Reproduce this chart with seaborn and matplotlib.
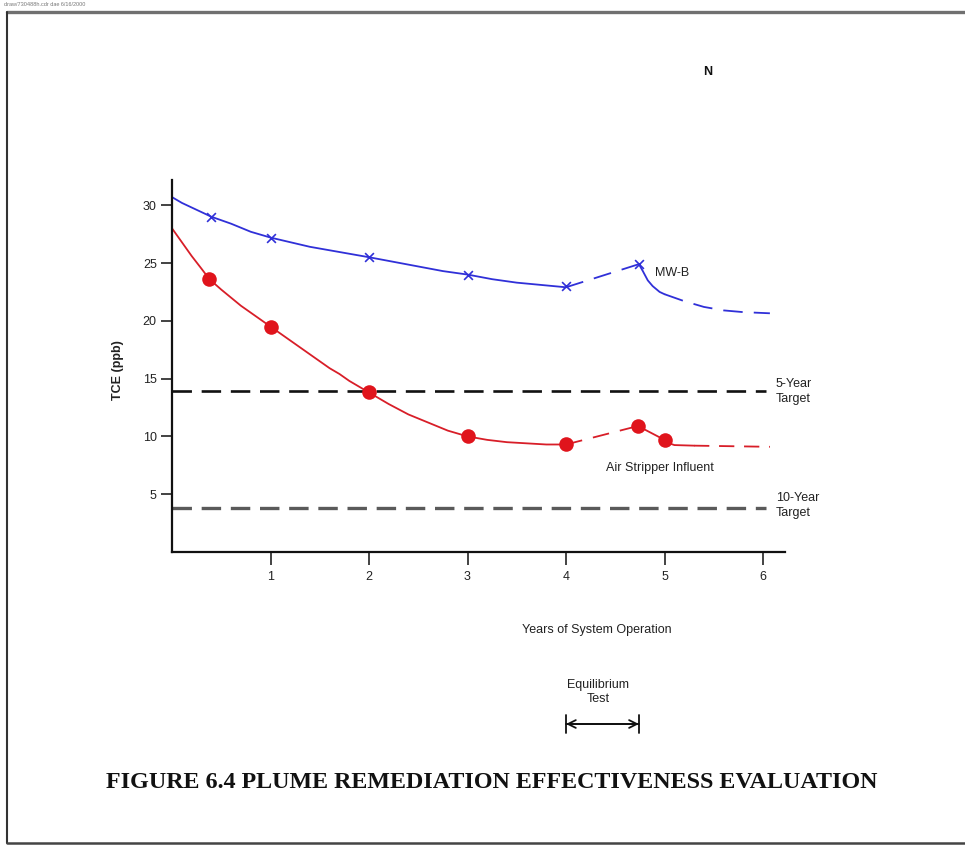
import numpy as np
import pandas as pd
import matplotlib
matplotlib.use("Agg")
import matplotlib.pyplot as plt
from matplotlib.lines import Line2D
import seaborn as sns

# ---------------- data ----------------
years_ticks = [1, 2, 3, 4, 5, 6]
tce_ticks = [5, 10, 15, 20, 25, 30]

# MW-B sampled points (x markers)
mwb_x = [0.4, 1, 2, 3, 4, 4.74]
mwb_y = [29.0, 27.2, 25.5, 24.0, 23.0, 24.9]

# MW-B trend curve
mwb_solid1_x = [0, 0.1, 0.2, 0.3, 0.4, 0.6, 0.8, 1, 1.2, 1.4, 1.6, 1.8, 2,
                2.25, 2.5, 2.75, 3, 3.25, 3.5, 3.75, 4]
mwb_solid1_y = [30.7, 30.2, 29.8, 29.4, 29.0, 28.4, 27.7, 27.2, 26.8, 26.4,
                26.1, 25.8, 25.5, 25.1, 24.7, 24.3, 24.0, 23.6, 23.3, 23.1, 22.9]
mwb_dash1_x = [4, 4.74]
mwb_dash1_y = [22.9, 24.9]
mwb_solid2_x = [4.74, 4.78, 4.83, 4.88, 4.95, 5.0]
mwb_solid2_y = [24.9, 24.3, 23.5, 23.0, 22.5, 22.3]
mwb_dash2_x = [5.0, 5.2, 5.4, 5.6, 5.8, 6.07]
mwb_dash2_y = [22.3, 21.7, 21.2, 20.9, 20.75, 20.65]

# Air Stripper Influent sampled points (red dots)
asi_x = [0.38, 1, 2, 3, 4, 4.73, 5]
asi_y = [23.6, 19.5, 13.8, 10.0, 9.3, 10.9, 9.7]

# Air Stripper Influent trend curve
asi_solid1_x = [0, 0.1, 0.2, 0.3, 0.38, 0.5, 0.6, 0.7, 0.8, 0.9, 1, 1.1, 1.2,
                1.3, 1.4, 1.5, 1.6, 1.7, 1.8, 1.9, 2, 2.2, 2.4, 2.6, 2.8, 3,
                3.2, 3.4, 3.6, 3.8, 4]
asi_solid1_y = [28.0, 26.8, 25.6, 24.5, 23.6, 22.7, 22.0, 21.3, 20.7, 20.1,
                19.5, 18.9, 18.3, 17.7, 17.1, 16.5, 15.9, 15.4, 14.8, 14.3,
                13.8, 12.8, 11.9, 11.2, 10.5, 10.0, 9.7, 9.5, 9.4, 9.3, 9.3]
asi_dash1_x = [4, 4.73]
asi_dash1_y = [9.3, 10.9]
asi_solid2_x = [4.73, 5, 5.05, 5.1, 5.3]
asi_solid2_y = [10.9, 9.7, 9.4, 9.25, 9.2]
asi_dash2_x = [5.3, 6.07]
asi_dash2_y = [9.2, 9.1]

# targets
target_5yr = 13.9
target_10yr = 3.8
target_x = [0, 6.03]

equilibrium_start = 4.0
equilibrium_end = 4.74

# ---------------- figure ----------------
sns.set_theme(style="white")
plt.rcParams["font.family"] = ["Liberation Sans", "DejaVu Sans"]
plt.rcParams["lines.scale_dashes"] = False
plt.rcParams["lines.solid_joinstyle"] = "round"

W, H = 965, 846
fig = plt.figure(figsize=(W / 100, H / 100), dpi=100)
fig.patch.set_facecolor("white")

ax_left, ax_right, ax_top, ax_bottom = 172, 785, 180, 552
ax = fig.add_axes([ax_left / W, 1 - ax_bottom / H,
                   (ax_right - ax_left) / W, (ax_bottom - ax_top) / H])
ax.set_facecolor("white")

BLUE = "#3030d8"
RED = "#e0141c"
RED_LINE = "#d81e28"

def seg(x, y, color, dashed, lw=1.3, dashes=(11, 6)):
    df = pd.DataFrame({"x": x, "y": y})
    sns.lineplot(data=df, x="x", y="y", sort=False, color=color,
                 linewidth=lw, ax=ax, estimator=None)
    l = ax.lines[-1]
    if dashed:
        l.set_dashes(dashes)
    return l

# MW-B
seg(mwb_solid1_x, mwb_solid1_y, BLUE, False)
seg(mwb_dash1_x, mwb_dash1_y, BLUE, True, dashes=(13, 8))
seg(mwb_solid2_x, mwb_solid2_y, BLUE, False)
seg(mwb_dash2_x, mwb_dash2_y, BLUE, True, dashes=(14, 8))
sns.scatterplot(x=mwb_x, y=mwb_y, marker="x", color=BLUE, s=40,
                linewidth=1.2, ax=ax, zorder=5)

# Air stripper influent
seg(asi_solid1_x, asi_solid1_y, RED_LINE, False)
seg(asi_dash1_x, asi_dash1_y, RED_LINE, True, dashes=(12, 8))
seg(asi_solid2_x, asi_solid2_y, RED_LINE, False)
seg(asi_dash2_x, asi_dash2_y, RED_LINE, True, dashes=(11, 7))
sns.scatterplot(x=asi_x, y=asi_y, marker="o", color=RED, s=110,
                edgecolor=RED, linewidth=0, ax=ax, zorder=5)

# target lines
l5 = ax.plot(target_x, [target_5yr] * 2, color="#111111", linewidth=1.9)[0]
l5.set_dashes((14, 7))
l10 = ax.plot(target_x, [target_10yr] * 2, color="#5a5a5a", linewidth=2.4)[0]
l10.set_dashes((14, 7))

ax.set_xlim(0, (ax_right - ax_left) / 98.5)
ax.set_ylim(0, (ax_bottom - ax_top) / 11.56)
ax.set_xticks(years_ticks)
ax.set_xticklabels([str(t) for t in years_ticks])
ax.set_yticks(tce_ticks)
ax.set_yticklabels([str(t) for t in tce_ticks])
ax.set_xlabel("")
ax.set_ylabel("")
for s in ["top", "right"]:
    ax.spines[s].set_visible(False)
for s in ["left", "bottom"]:
    ax.spines[s].set_color("#111111")
    ax.spines[s].set_linewidth(1.6)
ax.tick_params(axis="both", which="major", direction="out", length=8,
               width=1.2, color="#222222", labelsize=9, labelcolor="#222222",
               left=True, bottom=True, pad=3)
ax.tick_params(axis="x", length=9, pad=5)

# annotations in data space
txtkw = dict(fontsize=9, color="#222222")
ax.text(4.9, 24.1, "MW-B", ha="left", va="center", **txtkw)
ax.text(4.95, 7.3, "Air Stripper Influent", ha="center", va="center", **txtkw)
ax.text(6.13, target_5yr, "5-Year\nTarget", ha="left", va="center",
        linespacing=1.35, clip_on=False, **txtkw)
ax.text(6.13, target_10yr + 0.25, "10-Year\nTarget", ha="left", va="center",
        linespacing=1.35, clip_on=False, **txtkw)

# axis labels as figure text
fig.text(118 / W, 1 - 370 / H, "TCE (ppb)", rotation=90, ha="center",
         va="center", fontsize=9, fontweight="bold", color="#222222")
fig.text(597 / W, 1 - 630 / H, "Years of System Operation", ha="center",
         va="center", fontsize=9, color="#222222")
fig.text(598 / W, 1 - 692 / H, "Equilibrium\nTest", ha="center", va="center",
         fontsize=9, linespacing=1.3, color="#222222")

# equilibrium test arrow (x in data coords, y in figure coords)
trans = matplotlib.transforms.blended_transform_factory(ax.transData, fig.transFigure)
y_arrow = 1 - 724 / H
ax.annotate("", xy=(equilibrium_end, y_arrow), xytext=(equilibrium_start, y_arrow),
            xycoords=trans, textcoords=trans,
            arrowprops=dict(arrowstyle="<->", color="#111111", lw=1.3,
                            shrinkA=0, shrinkB=0, mutation_scale=14))
ax.annotate("", xy=(equilibrium_end, y_arrow), xytext=(equilibrium_start, y_arrow),
            xycoords=trans, textcoords=trans,
            arrowprops=dict(arrowstyle="|-|,widthA=0.55,widthB=0.55", color="#111111",
                            lw=1.3, shrinkA=0, shrinkB=0))

# title
fig.text(492 / W, 1 - 782 / H,
         "FIGURE 6.4 PLUME REMEDIATION EFFECTIVENESS EVALUATION",
         ha="center", va="center", fontsize=17.3, fontweight="bold",
         family=["Liberation Serif", "DejaVu Serif"], color="#111111")

# north marker and file stamp
fig.text(708 / W, 1 - 72 / H, "N", ha="center", va="center", fontsize=9,
         fontweight="bold", color="#111111")
fig.text(4 / W, 1 - 4 / H, "draw/730488h.cdr dae 6/16/2000", ha="left",
         va="center", fontsize=4, color="#777777")

# page frame
fig.add_artist(Line2D([7 / W, 1], [1 - 12 / H] * 2, transform=fig.transFigure,
                      color="#707070", linewidth=2.4))
fig.add_artist(Line2D([7 / W, 7 / W], [1 - 12 / H, 1 - 843 / H],
                      transform=fig.transFigure, color="#333333", linewidth=1.5))
fig.add_artist(Line2D([7 / W, 1], [1 - 843 / H] * 2, transform=fig.transFigure,
                      color="#444444", linewidth=1.8))

fig.savefig("out.png", dpi=100, facecolor="white")
